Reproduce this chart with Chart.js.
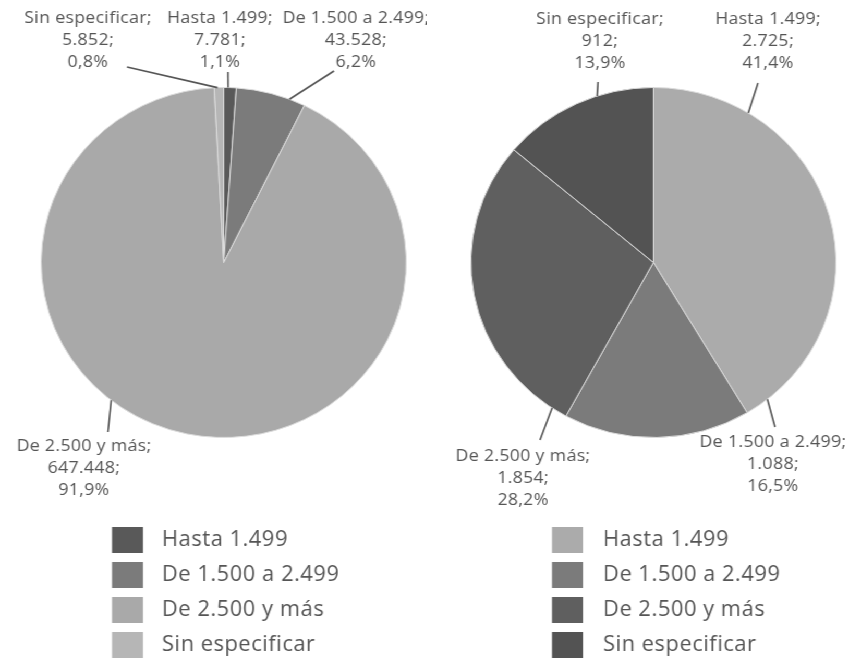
<!DOCTYPE html>
<html>
<head>
<meta charset="utf-8">
<script src="https://cdn.jsdelivr.net/npm/chart.js@4.4.0/dist/chart.umd.min.js"></script>
<style>
  html, body { margin: 0; padding: 0; background: #fff; overflow: hidden; }
  #wrap {
    position: absolute; left: 0; top: 0; width: 818px; height: 661px;
    display: flex; transform: scaleX(1.043); transform-origin: 0 0;
  }
  .cell { position: relative; width: 409px; height: 661px; }
  canvas { display: block; }
</style>
</head>
<body>
<div id="wrap">
  <div class="cell"><canvas id="pieTotal" width="409" height="661"></canvas></div>
  <div class="cell"><canvas id="pieOther" width="409" height="661"></canvas></div>
</div>
<script>
// Income brackets shared by both pies
const categories = ['Hasta 1.499', 'De 1.500 a 2.499', 'De 2.500 y más', 'Sin especificar'];

// Left pie
const leftValues = [7781, 43528, 647448, 5852];
const leftColors = ['#595959', '#7b7b7b', '#a9a9a9', '#b6b6b6'];

// Right pie
const rightValues = [2725, 1088, 1854, 912];
const rightColors = ['#ababab', '#7b7b7b', '#5f5f5f', '#535353'];

const TEXT_COLOR = '#555555';
const FONT = '"Open Sans", Lato, sans-serif';
const SX = 1.043;            // horizontal stretch applied to #wrap
const CELL_W = 409;

// 12345 -> "12.345"
function fmtInt(v) {
  return String(v).replace(/\B(?=(\d{3})+(?!\d))/g, '.');
}
// share of total -> "41,4%"
function fmtPct(v, total) {
  return (v / total * 100).toFixed(1).replace('.', ',') + '%';
}

// Callout labels with leader lines; places are given in page pixels
const callouts = {
  id: 'callouts',
  afterDatasetsDraw(chart, args, opts) {
    const ctx = chart.ctx;
    const meta = chart.getDatasetMeta(0);
    const values = chart.data.datasets[0].data;
    const total = values.reduce((a, b) => a + b, 0);
    const toX = px => px / SX - opts.offset;
    ctx.save();
    meta.data.forEach((arc, i) => {
      const p = opts.place[i];
      const { x, y, startAngle, endAngle, outerRadius } =
        arc.getProps(['x', 'y', 'startAngle', 'endAngle', 'outerRadius'], true);
      const a = startAngle + (endAngle - startAngle) * p.at;
      const ex = x + Math.cos(a) * outerRadius;
      const ey = y + Math.sin(a) * outerRadius;
      ctx.strokeStyle = '#555';
      ctx.lineWidth = 1.6;
      ctx.beginPath();
      ctx.moveTo(ex, ey);
      ctx.lineTo(toX(p.lx), p.ly);
      ctx.stroke();

      const lines = [
        chart.data.labels[i] + ';',
        fmtInt(values[i]) + ';',
        fmtPct(values[i], total)
      ];
      ctx.fillStyle = TEXT_COLOR;
      ctx.font = '17px ' + FONT;
      ctx.letterSpacing = '0.3px';
      ctx.textAlign = 'center';
      ctx.textBaseline = 'middle';
      lines.forEach((t, k) => ctx.fillText(t, toX(p.tx), p.ty + k * 22));
    });
    ctx.restore();
  }
};

// Single-column legend under each pie
const legendColumn = {
  id: 'legendColumn',
  afterDraw(chart, args, opts) {
    const ctx = chart.ctx;
    const colors = chart.data.datasets[0].backgroundColor;
    const toX = px => px / SX - opts.offset;
    ctx.save();
    ctx.font = '21px ' + FONT;
    ctx.letterSpacing = '0.5px';
    ctx.textAlign = 'left';
    ctx.textBaseline = 'middle';
    chart.data.labels.forEach((lab, i) => {
      const cy = opts.top + i * opts.step;
      ctx.fillStyle = colors[i];
      ctx.fillRect(toX(opts.boxX), cy - 13, 31 / SX, 26);
      ctx.fillStyle = TEXT_COLOR;
      ctx.fillText(lab, toX(opts.textX), cy);
    });
    ctx.restore();
  }
};

function makePie(id, values, colors, padding, offset, place, legend) {
  return new Chart(document.getElementById(id), {
    type: 'pie',
    data: {
      labels: categories,
      datasets: [{
        data: values,
        backgroundColor: colors,
        borderColor: '#dcdcdc',
        borderWidth: 1
      }]
    },
    options: {
      responsive: false,
      animation: false,
      layout: { padding },
      plugins: {
        legend: { display: false },
        tooltip: { enabled: false },
        callouts: { offset, place },
        legendColumn: Object.assign({ offset }, legend)
      }
    },
    plugins: [callouts, legendColumn]
  });
}

makePie('pieTotal', leftValues, leftColors,
  { left: 39, right: 19, top: 87, bottom: 223 }, 0,
  [
    { at: 0.35, lx: 228, ly: 72, tx: 220, ty: 18 },
    { at: 0.77, lx: 334, ly: 71, tx: 356, ty: 18 },
    { at: 0.58, lx: 108, ly: 432, tx: 84, ty: 446 },
    { at: 0.35, lx: 127, ly: 67, tx: 88, ty: 18 }
  ],
  { top: 540, step: 35, boxX: 112, textX: 162 });

makePie('pieOther', rightValues, rightColors,
  { left: 42, right: 16, top: 87, bottom: 223 }, CELL_W,
  [
    { at: 0.21, lx: 758, ly: 83, tx: 768, ty: 19 },
    { at: -0.13, lx: 775, ly: 427, tx: 773, ty: 442 },
    { at: 0.05, lx: 540, ly: 440, tx: 523, ty: 456 },
    { at: 0.64, lx: 598, ly: 82, tx: 600, ty: 19 }
  ],
  { top: 540, step: 35, boxX: 552, textX: 603 });
</script>
</body>
</html>
